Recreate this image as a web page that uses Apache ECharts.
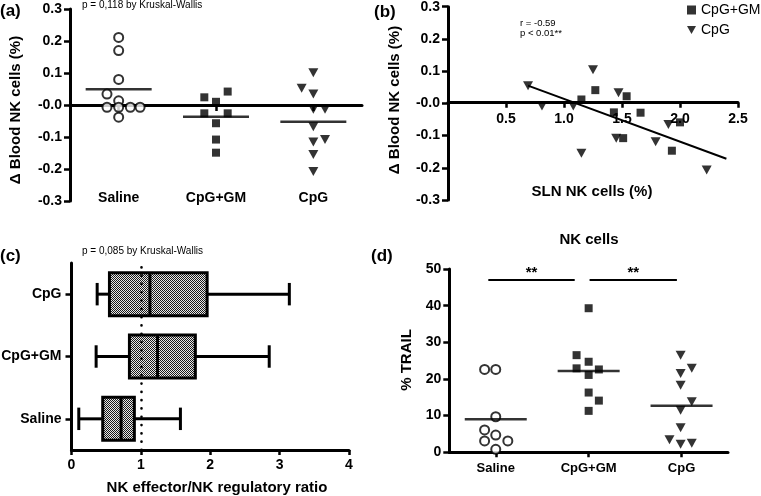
<!DOCTYPE html>
<html>
<head>
<meta charset="utf-8">
<script src="https://cdn.jsdelivr.net/npm/echarts@6/dist/echarts.min.js"></script>
<style>
  html, body { margin: 0; padding: 0; background: #fff; }
  #chart { width: 761px; height: 496px; }
</style>
</head>
<body>
<div id="chart"></div>
<script>
var groups = ["Saline", "CpG+GM", "CpG"];
var boxGroups = ["Saline", "CpG+GM", "CpG"]; // bottom to top

// (a) change in blood NK cells, [position in group units, value]
var aSaline = [[0.5, 0.211], [0.5, 0.170], [0.5, 0.080], [0.38, 0.034], [0.5, 0.013],
  [0.38, -0.007], [0.5, -0.007], [0.62, -0.007], [0.72, -0.007], [0.5, -0.038]];
var aCpgGm = [[1.38, 0.024], [1.5, 0.010], [1.62, 0.042], [1.38, -0.026], [1.62, -0.026],
  [1.5, -0.057], [1.5, -0.108], [1.5, -0.149]];
var aCpg = [[2.38, 0.052], [2.5, 0.101], [2.5, 0.034], [2.5, -0.013], [2.62, -0.013],
  [2.5, -0.068], [2.5, -0.116], [2.62, -0.108], [2.5, -0.155], [2.5, -0.208]];
var aMedians = [0.049, -0.037, -0.052];

// (b) SLN NK cells vs change in blood NK cells
var bCpgGm = [[1.27, 0.041], [1.15, 0.012], [1.54, 0.022], [1.43, -0.028], [1.66, -0.029],
  [1.51, -0.108], [2.00, -0.059], [1.93, -0.147]];
var bCpg = [[0.69, 0.055], [1.25, 0.104], [0.81, -0.008], [1.08, -0.008], [1.47, 0.033],
  [1.15, -0.155], [1.45, -0.108], [1.79, -0.119], [1.90, -0.066], [2.23, -0.207]];
var bFit = [[0.69, 0.055], [2.40, -0.172]];

// (c) effector/regulatory ratio: min, q1, median, q3, max
var cSaline = [0.105, 0.45, 0.715, 0.906, 1.57];
var cCpgGm = [0.355, 0.835, 1.24, 1.785, 2.85];
var cCpg = [0.37, 0.547, 1.13, 1.955, 3.14];

// (d) % TRAIL
var dSaline = [[0.38, 22.6], [0.50, 22.6], [0.50, 9.7], [0.38, 6.1], [0.50, 4.7],
  [0.38, 3.1], [0.63, 3.1], [0.50, 0.8]];
var dCpgGm = [[1.50, 39.3], [1.37, 26.5], [1.50, 24.7], [1.37, 22.9], [1.61, 22.6],
  [1.50, 21.1], [1.50, 16.3], [1.61, 14.1], [1.50, 11.3]];
var dCpg = [[2.49, 26.5], [2.61, 22.9], [2.49, 21.5], [2.49, 18.3], [2.61, 13.8],
  [2.49, 11.5], [2.49, 6.7], [2.37, 3.4], [2.49, 2.2], [2.61, 2.5]];
var dMedians = [9.0, 22.2, 12.7];
var dSigBars = [[0.42, 1.35, 47], [1.51, 2.45, 47]];

var FONT = '"Liberation Sans", Arial, sans-serif';

// stipple fill for the boxes
var pat = document.createElement("canvas");
pat.width = 2; pat.height = 2;
var pctx = pat.getContext("2d");
pctx.fillStyle = "#e8e8e8"; pctx.fillRect(0, 0, 2, 2);
pctx.fillStyle = "#1a1a1a"; pctx.fillRect(0, 0, 1, 1); pctx.fillRect(1, 1, 1, 1);

function deltaFmt(v) {
  if (Math.abs(v) < 1e-9) return "-0.0";
  return v.toFixed(1);
}

var lineBlack = { show: true, onZero: false, lineStyle: { color: "#000", width: 3 } };
var tickBlack = { show: true, length: 6, lineStyle: { color: "#000", width: 2.5 } };
var lblBold = { color: "#000", fontWeight: "bold", fontSize: 14, fontFamily: FONT };

function txt(x, y, s, font, rot) {
  return {
    type: "text", x: x, y: y, rotation: rot || 0,
    style: { text: s, font: font, fill: "#000", align: "left", verticalAlign: "middle",
      textAlign: "left", textVerticalAlign: "middle" }
  };
}
function ctxt(x, y, s, font, rot) {
  var t = txt(x, y, s, font, rot);
  t.style.align = "center"; t.style.textAlign = "center";
  return t;
}

var boxData = [[0].concat(cSaline), [1].concat(cCpgGm), [2].concat(cCpg)];

var option = {
  animation: false,
  textStyle: { fontFamily: FONT },
  grid: [
    { left: 70, top: 9, width: 292, height: 192, outerBoundsMode: "none", containLabel: false },
    { left: 448, top: 6.7, width: 290, height: 193.3, outerBoundsMode: "none", containLabel: false },
    { left: 71.5, top: 263, width: 277.5, height: 187, outerBoundsMode: "none", containLabel: false },
    { left: 449.3, top: 269, width: 278.7, height: 183.3, outerBoundsMode: "none", containLabel: false }
  ],
  xAxis: [
    { gridIndex: 0, type: "value", min: 0, max: 3, show: false, axisLine: { onZero: false } },
    // zero line of (a), shifted up from the grid bottom to y = 0
    { gridIndex: 0, type: "category", data: groups, position: "bottom", offset: -96,
      axisLine: lineBlack,
      axisTick: { show: true, alignWithLabel: true, length: 6, lineStyle: { color: "#000", width: 2.5 } },
      axisLabel: { show: false } },
    { gridIndex: 0, type: "category", data: groups, position: "bottom", offset: -12,
      axisLine: { show: false, onZero: false }, axisTick: { show: false },
      axisLabel: Object.assign({ margin: 2 }, lblBold) },
    { gridIndex: 1, type: "value", min: 0, max: 2.5, interval: 0.5, position: "bottom", offset: -97.3,
      axisLine: lineBlack,
      axisTick: { show: true, length: 5, lineStyle: { color: "#000", width: 2.5 } },
      axisLabel: Object.assign({ margin: 9, showMinLabel: false,
        formatter: function (v) { return v.toFixed(1); } }, lblBold),
      splitLine: { show: false } },
    { gridIndex: 2, type: "value", min: 0, max: 4, interval: 1, position: "bottom",
      axisLine: lineBlack, axisTick: { show: true, length: 5, lineStyle: { color: "#000", width: 2.5 } },
      axisLabel: Object.assign({ margin: 8 }, lblBold), splitLine: { show: false } },
    { gridIndex: 3, type: "value", min: 0, max: 3, show: false, axisLine: { onZero: false } },
    { gridIndex: 3, type: "category", data: groups, position: "bottom",
      axisLine: lineBlack,
      axisTick: { show: true, alignWithLabel: true, length: 5, lineStyle: { color: "#000", width: 2.5 } },
      axisLabel: Object.assign({}, lblBold, { fontSize: 13, margin: 10 }) }
  ],
  yAxis: [
    { gridIndex: 0, type: "value", min: -0.3, max: 0.3, interval: 0.1,
      axisLine: lineBlack, axisTick: tickBlack, splitLine: { show: false },
      axisLabel: Object.assign({ margin: 8, formatter: deltaFmt }, lblBold) },
    { gridIndex: 1, type: "value", min: -0.3, max: 0.3, interval: 0.1,
      axisLine: lineBlack, axisTick: tickBlack, splitLine: { show: false },
      axisLabel: Object.assign({ margin: 8, formatter: deltaFmt }, lblBold) },
    { gridIndex: 2, type: "category", data: boxGroups,
      axisLine: lineBlack,
      axisTick: { show: true, alignWithLabel: true, length: 6, lineStyle: { color: "#000", width: 2.5 } },
      axisLabel: Object.assign({ margin: 10 }, lblBold) },
    { gridIndex: 3, type: "value", min: 0, max: 50, interval: 10,
      axisLine: lineBlack, axisTick: tickBlack, splitLine: { show: false },
      axisLabel: Object.assign({ margin: 8 }, lblBold) }
  ],
  legend: {
    orient: "vertical", left: 687, top: 3, padding: 0,
    itemWidth: 9, itemHeight: 9, itemGap: 6,
    textStyle: { color: "#000", fontSize: 14, fontFamily: FONT },
    data: [
      { name: "CpG+GM", icon: "rect" },
      { name: "CpG", icon: "path://M0,0L10,0L5,9Z" }
    ]
  },
  series: [
    // (a)
    { name: "a-Saline", type: "scatter", xAxisIndex: 0, yAxisIndex: 0, data: aSaline,
      symbol: "emptyCircle", symbolSize: 9, itemStyle: { color: "#000", borderWidth: 2.4 }, z: 5 },
    { name: "a-CpG+GM", type: "scatter", xAxisIndex: 0, yAxisIndex: 0, data: aCpgGm,
      symbol: "rect", symbolSize: 8, itemStyle: { color: "#000" } },
    { name: "a-CpG", type: "scatter", xAxisIndex: 0, yAxisIndex: 0, data: aCpg,
      symbol: "triangle", symbolRotate: 180, symbolSize: [10, 9], itemStyle: { color: "#000" } },
    { name: "a-median", type: "scatter", xAxisIndex: 1, yAxisIndex: 0, data: aMedians,
      symbol: "rect", symbolSize: [66, 2.5], itemStyle: { color: "#000" } },
    // (b)
    { name: "CpG+GM", type: "scatter", xAxisIndex: 3, yAxisIndex: 1, data: bCpgGm,
      symbol: "rect", symbolSize: 8, itemStyle: { color: "#000" } },
    { name: "CpG", type: "scatter", xAxisIndex: 3, yAxisIndex: 1, data: bCpg,
      symbol: "triangle", symbolRotate: 180, symbolSize: [10, 9], itemStyle: { color: "#000" } },
    { name: "b-fit", type: "line", xAxisIndex: 3, yAxisIndex: 1, data: bFit,
      symbol: "none", lineStyle: { color: "#000", width: 2 } },
    // (c)
    { name: "c-box", type: "custom", xAxisIndex: 4, yAxisIndex: 2, data: boxData,
      encode: { x: [1, 2, 3, 4, 5], y: 0 },
      renderItem: function (params, api) {
        var c = api.value(0);
        var p = [1, 2, 3, 4, 5].map(function (i) { return api.coord([api.value(i), c]); });
        var band = api.size([0, 1])[1];
        var hb = band * 0.345, hc = band * 0.18;
        var ls = { stroke: "#000", lineWidth: 3, fill: null };
        var y = p[0][1];
        return { type: "group", children: [
          { type: "line", shape: { x1: p[0][0], y1: y, x2: p[1][0], y2: y }, style: ls },
          { type: "line", shape: { x1: p[3][0], y1: y, x2: p[4][0], y2: y }, style: ls },
          { type: "line", shape: { x1: p[0][0], y1: y - hc, x2: p[0][0], y2: y + hc }, style: ls },
          { type: "line", shape: { x1: p[4][0], y1: y - hc, x2: p[4][0], y2: y + hc }, style: ls },
          { type: "rect", shape: { x: p[1][0], y: y - hb, width: p[3][0] - p[1][0], height: 2 * hb },
            style: { fill: { image: pat, repeat: "repeat" }, stroke: "#000", lineWidth: 3 } },
          { type: "line", shape: { x1: p[2][0], y1: y - hb, x2: p[2][0], y2: y + hb }, style: ls }
        ] };
      },
      markLine: { silent: true, symbol: "none", label: { show: false },
        lineStyle: { color: "#000", width: 2.6, type: [0.1, 8.2], cap: "round" },
        data: [{ xAxis: 1 }] } },
    // (d)
    { name: "d-Saline", type: "scatter", xAxisIndex: 5, yAxisIndex: 3, data: dSaline,
      symbol: "emptyCircle", symbolSize: 9, itemStyle: { color: "#000", borderWidth: 2.4 } },
    { name: "d-CpG+GM", type: "scatter", xAxisIndex: 5, yAxisIndex: 3, data: dCpgGm,
      symbol: "rect", symbolSize: 8, itemStyle: { color: "#000" },
      markLine: { silent: true, symbol: "none",
        lineStyle: { color: "#000", width: 2, type: "solid" },
        label: { show: true, position: "insideMiddleTop", formatter: "**", distance: 0,
          color: "#000", fontWeight: "bold", fontSize: 15, fontFamily: FONT },
        data: dSigBars.map(function (s) { return [{ coord: [s[0], s[2]] }, { coord: [s[1], s[2]] }]; }) } },
    { name: "d-CpG", type: "scatter", xAxisIndex: 5, yAxisIndex: 3, data: dCpg,
      symbol: "triangle", symbolRotate: 180, symbolSize: [10, 9], itemStyle: { color: "#000" } },
    { name: "d-median", type: "scatter", xAxisIndex: 6, yAxisIndex: 3, data: dMedians,
      symbol: "rect", symbolSize: [62, 2.5], itemStyle: { color: "#000" } }
  ],
  graphic: [
    txt(0, 11, "(a)", "bold 17px " + FONT),
    txt(374, 12, "(b)", "bold 17px " + FONT),
    txt(0, 256, "(c)", "bold 17px " + FONT),
    txt(371, 256, "(d)", "bold 17px " + FONT),
    txt(82, 5, "p = 0,118 by Kruskal-Wallis", "10px " + FONT),
    txt(82, 251, "p = 0,085 by Kruskal-Wallis", "10px " + FONT),
    txt(520, 23.5, "r = -0.59", "9.5px " + FONT),
    txt(520, 33.5, "p < 0.01**", "9.5px " + FONT),
    ctxt(16, 110, "\u0394 Blood NK cells (%)", "bold 15px " + FONT, Math.PI / 2),
    ctxt(395, 100, "\u0394 Blood NK cells (%)", "bold 15px " + FONT, Math.PI / 2),
    ctxt(592, 192, "SLN NK cells (%)", "bold 15px " + FONT),
    ctxt(217, 488, "NK effector/NK regulatory ratio", "bold 15px " + FONT),
    ctxt(589, 240, "NK cells", "bold 15px " + FONT),
    ctxt(407, 360, "% TRAIL", "bold 15px " + FONT, Math.PI / 2)
  ]
};

var chart = echarts.init(document.getElementById("chart"));
chart.setOption(option);
window.addEventListener("resize", function () { chart.resize(); });
</script>
</body>
</html>
